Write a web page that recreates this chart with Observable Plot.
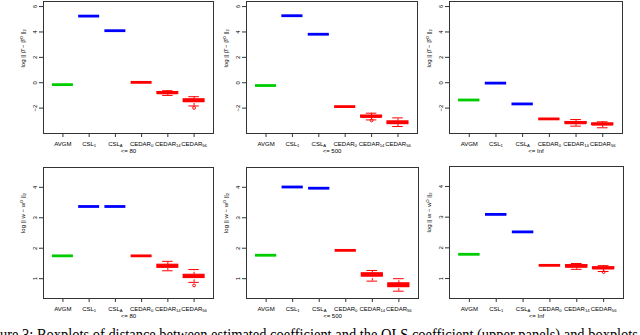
<!DOCTYPE html>
<html>
<head>
<meta charset="utf-8">
<script src="https://cdn.jsdelivr.net/npm/d3@7"></script>
<script src="https://cdn.jsdelivr.net/npm/@observablehq/plot@0.6"></script>
<style>
  html, body { margin: 0; padding: 0; background: #fff; overflow: hidden; }
  #wrap { position: relative; width: 640px; height: 335px; overflow: hidden; background: #fff; }
  .panel { position: absolute; }
  #caption { position: absolute; left: 0; top: 0; }
</style>
</head>
<body>
<div id="wrap"></div>
<script>
// ---- data ----
const methods = ["AVGM", "CSL", "CSL", "CEDAR", "CEDAR", "CEDAR"];
const methodSubs = ["", "1", "A", "0", "14", "56"];
const methodColors = ["#00cd00", "#0000ff", "#0000ff", "#ff0000", "#ff0000", "#ff0000"];
const thresholds = ["<= 80", "<= 500", "<= Inf"];

// each row: [lower whisker, q1, median, q3, upper whisker]
const beta80 = [
  [-0.15, -0.15, -0.15, -0.15, -0.15],
  [5.25, 5.25, 5.25, 5.25, 5.25],
  [4.1, 4.1, 4.1, 4.1, 4.1],
  [0.03, 0.03, 0.03, 0.03, 0.03],
  [-1.0, -0.87, -0.8, -0.73, -0.63],
  [-1.83, -1.53, -1.42, -1.3, -1.1]
];
const beta500 = [
  [-0.22, -0.22, -0.22, -0.22, -0.22],
  [5.28, 5.28, 5.28, 5.28, 5.28],
  [3.82, 3.82, 3.82, 3.82, 3.82],
  [-1.88, -1.88, -1.88, -1.88, -1.88],
  [-2.93, -2.74, -2.66, -2.58, -2.4],
  [-3.45, -3.26, -3.15, -3.04, -2.77]
];
const betaInf = [
  [-1.36, -1.36, -1.36, -1.36, -1.36],
  [-0.03, -0.03, -0.03, -0.03, -0.03],
  [-1.67, -1.67, -1.67, -1.67, -1.67],
  [-2.85, -2.85, -2.85, -2.85, -2.85],
  [-3.42, -3.23, -3.16, -3.09, -2.9],
  [-3.55, -3.33, -3.27, -3.2, -3.08]
];
const w80 = [
  [1.75, 1.75, 1.75, 1.75, 1.75],
  [3.37, 3.37, 3.37, 3.37, 3.37],
  [3.37, 3.37, 3.37, 3.37, 3.37],
  [1.75, 1.75, 1.75, 1.75, 1.75],
  [1.26, 1.36, 1.41, 1.46, 1.57],
  [0.88, 1.02, 1.07, 1.13, 1.3]
];
const w500 = [
  [1.77, 1.77, 1.77, 1.77, 1.77],
  [4.01, 4.01, 4.01, 4.01, 4.01],
  [3.97, 3.97, 3.97, 3.97, 3.97],
  [1.93, 1.93, 1.93, 1.93, 1.93],
  [0.92, 1.07, 1.12, 1.18, 1.27],
  [0.59, 0.72, 0.78, 0.85, 1.0]
];
const wInf = [
  [1.79, 1.79, 1.79, 1.79, 1.79],
  [3.09, 3.09, 3.09, 3.09, 3.09],
  [2.52, 2.52, 2.52, 2.52, 2.52],
  [1.43, 1.43, 1.43, 1.43, 1.43],
  [1.3, 1.36, 1.4, 1.44, 1.49],
  [1.23, 1.31, 1.34, 1.37, 1.42]
];
// outliers: [method index, value]
const beta80Out = [[5, -1.98]];
const beta500Out = [[4, -2.97]];
const betaInfOut = [];
const w80Out = [[5, 0.78]];
const w500Out = [];
const wInfOut = [[5, 1.21]];

const betaTicks = [-2, 0, 2, 4, 6];
const wTicks = [1, 2, 3, 4];
const betaDomain = [-4, 6.4];
const wDomain = [0.35, 4.65];
const betaLabel = "log || β̂ − β̂ᴼ ||₂";
const wLabel = "log || w − wᴼ ||₂";
const captionText = "ure 3: Boxplots of distance between estimated coefficient and the OLS coefficient (upper panels) and boxplots";

// ---- layout ----
const FONT = "'Liberation Sans', Arial, Helvetica, sans-serif";
const ML = 43, MR = 2, MT = 1, MB = 30;

function panel(stats, outliers, yDomain, yTicks, yLabel, xTitle, frame) {
  const [fx1, fx2, fy1, fy2] = frame;
  const rows = stats.map((s, i) => ({
    x: i + 1, lo: s[0], q1: s[1], med: s[2], q3: s[3], hi: s[4], color: methodColors[i]
  }));
  const boxes = rows.filter(d => d.q3 > d.q1);
  const outs = outliers.map(([i, v]) => ({x: i + 1, y: v, color: methodColors[i]}));
  const width = (fx2 - fx1) + ML + MR;
  const height = (fy2 - fy1) + MT + MB;
  const svg = Plot.plot({
    width, height,
    marginLeft: ML, marginRight: MR, marginTop: MT, marginBottom: MB,
    style: {fontFamily: FONT, fontSize: "6px", background: "transparent", color: "#000"},
    x: {type: "linear", domain: [0.26, 6.74]},
    y: {domain: yDomain},
    color: {type: "identity"},
    marks: [
      // whiskers (dashed)
      Plot.ruleX(boxes, {x: "x", y1: "q3", y2: "hi", stroke: "color", strokeWidth: 1, strokeDasharray: "2.5,1.5"}),
      Plot.ruleX(boxes, {x: "x", y1: "lo", y2: "q1", stroke: "color", strokeWidth: 1, strokeDasharray: "2.5,1.5"}),
      // staples
      Plot.ruleY(boxes, {y: "hi", x1: d => d.x - 0.2, x2: d => d.x + 0.2, stroke: "color", strokeWidth: 1}),
      Plot.ruleY(boxes, {y: "lo", x1: d => d.x - 0.2, x2: d => d.x + 0.2, stroke: "color", strokeWidth: 1}),
      // boxes
      Plot.rect(boxes, {x1: d => d.x - 0.4, x2: d => d.x + 0.4, y1: "q1", y2: "q3", fill: "color", stroke: "color", strokeWidth: 1}),
      // medians
      Plot.ruleY(rows, {y: "med", x1: d => d.x - 0.4, x2: d => d.x + 0.4, stroke: "color", strokeWidth: 2.8}),
      // outliers
      Plot.dot(outs, {x: "x", y: "y", r: 1.4, stroke: "color", strokeWidth: 1}),
      Plot.frame({stroke: "#333", strokeWidth: 1}),
      Plot.axisX({ticks: [1, 2, 3, 4, 5, 6], tickSize: 4, tickPadding: 4,
        tickFormat: i => methods[i - 1] + "|" + methodSubs[i - 1], label: null, stroke: "#333"}),
      Plot.axisY({ticks: yTicks, tickSize: 4, tickPadding: 3, tickRotate: -90, label: null, stroke: "#333",
        tickFormat: d => String(d).replace("-", "\u2212")}),
      Plot.text([xTitle], {text: d => d, frameAnchor: "bottom", dy: 19, fontSize: 6, fill: "#000"}),
      Plot.text([yLabel], {text: d => d, frameAnchor: "left", dx: -20, rotate: -90, fontSize: 6, fill: "#000"})
    ]
  });
  // turn "BASE|SUB" tick labels into base + subscript tspans
  d3.select(svg).selectAll('g[aria-label="x-axis tick label"] text').each(function () {
    const full = this.textContent;
    const [base, sub] = full.split("|");
    const t = d3.select(this);
    t.text(null);
    t.append("tspan").text(base);
    if (sub) t.append("tspan").attr("dy", "0.3em").attr("font-size", "4.2px").text(sub);
  });
  const div = document.createElement("div");
  div.className = "panel";
  div.style.left = (fx1 - ML) + "px";
  div.style.top = (fy1 - MT) + "px";
  div.appendChild(svg);
  return div;
}

const wrap = document.getElementById("wrap");
const betaStats = [beta80, beta500, betaInf];
const betaOuts = [beta80Out, beta500Out, betaInfOut];
const wStats = [w80, w500, wInf];
const wOuts = [w80Out, w500Out, wInfOut];
const topFrames = [[43, 213, 1, 133], [246, 417, 1, 133], [449, 622, 1, 133]];
const botFrames = [[43, 213, 167, 298], [246, 418, 167, 298], [449, 623, 166, 298]];
for (let k = 0; k < 3; k++) {
  wrap.appendChild(panel(betaStats[k], betaOuts[k], betaDomain, betaTicks, betaLabel, thresholds[k], topFrames[k]));
  wrap.appendChild(panel(wStats[k], wOuts[k], wDomain, wTicks, wLabel, thresholds[k], botFrames[k]));
}

// caption (cut off by the picture edge, as in the reference)
const cap = d3.create("svg").attr("id", "caption").attr("width", 640).attr("height", 350);
cap.append("text")
  .attr("x", 0).attr("y", 340)
  .attr("font-family", "'Liberation Serif', 'Times New Roman', serif")
  .attr("font-size", 16.5)
  .attr("textLength", 638).attr("lengthAdjust", "spacingAndGlyphs")
  .attr("fill", "#000")
  .text(captionText);
wrap.appendChild(cap.node());
</script>
</body>
</html>
